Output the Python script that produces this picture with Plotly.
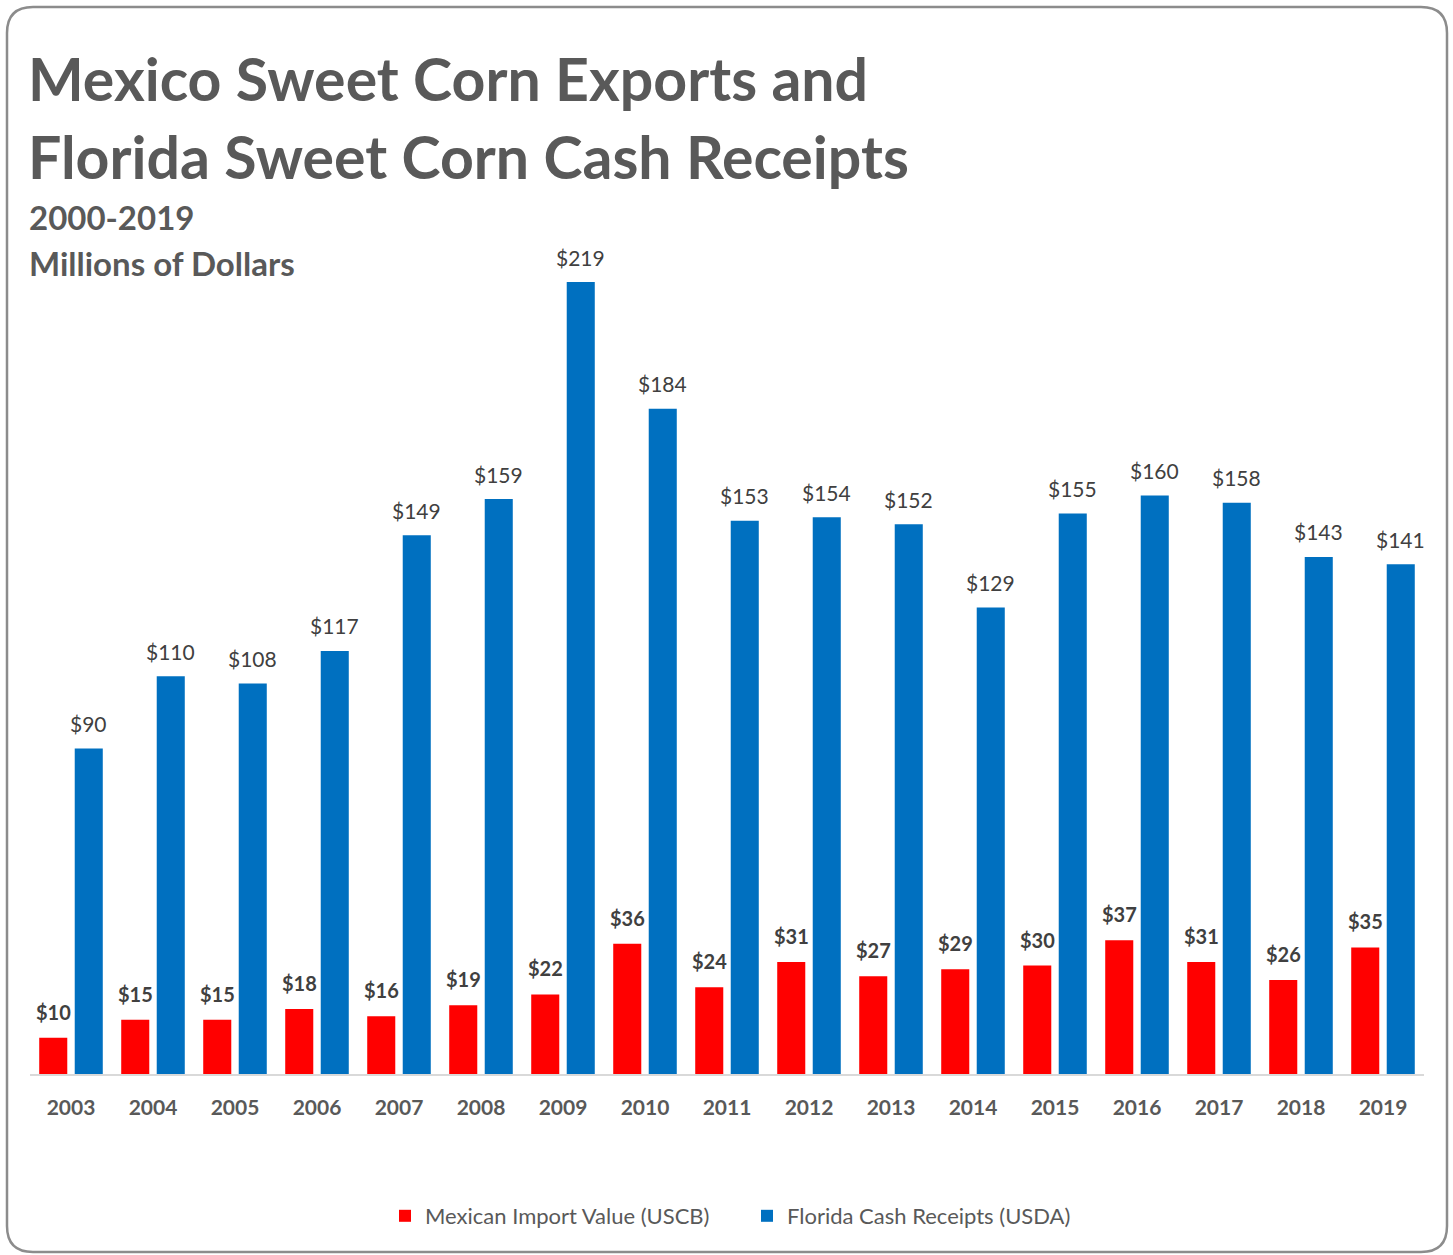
import plotly.graph_objects as go

years = ["2003", "2004", "2005", "2006", "2007", "2008", "2009", "2010", "2011",
         "2012", "2013", "2014", "2015", "2016", "2017", "2018", "2019"]
mexican_imports = [10, 15, 15, 18, 16, 19, 22, 36, 24, 31, 27, 29, 30, 37, 31, 26, 35]
florida_receipts = [90, 110, 108, 117, 149, 159, 219, 184, 153, 154, 152, 129, 155, 160, 158, 143, 141]

W, H = 1453, 1255
ML, MR, MT, MB = 30, 29, 240, 181
PW, PH = W - ML - MR, H - MT - MB
Y_MAX = PH / 3.616

RED = "#FF0000"
BLUE = "#0070C0"
GRAY = "#595959"
FONT = "Lato"


def px(x):
    return (x - ML) / PW


def py(y):
    return (H - MB - y) / PH


fig = go.Figure()
fig.add_trace(go.Bar(x=years, y=mexican_imports, name="Mexican Import Value (USCB)",
                     marker=dict(color=RED, line=dict(width=0))))
fig.add_trace(go.Bar(x=years, y=florida_receipts, name="Florida Cash Receipts (USDA)",
                     marker=dict(color=BLUE, line=dict(width=0))))

# value labels above each bar (x given as category index)
annotations = []
for i, v in enumerate(mexican_imports):
    annotations.append(dict(x=i, y=v, text=f"${v}", showarrow=False, xshift=-17.5, yshift=26,
                            font=dict(family=FONT, size=20, color="#404040", weight="bold")))
for i, v in enumerate(florida_receipts):
    annotations.append(dict(x=i, y=v, text=f"${v}", showarrow=False, xshift=17.5, yshift=25,
                            font=dict(family=FONT, size=21, color="#404040")))

titles = [
    ("Mexico Sweet Corn Exports and", 78, 59),
    ("Florida Sweet Corn Cash Receipts", 157, 59),
]
for txt, yc, sz in titles:
    annotations.append(dict(xref="paper", yref="paper", x=px(26), y=py(yc), xanchor="left",
                            yanchor="middle", text=txt, showarrow=False,
                            font=dict(family=FONT, size=sz, color=GRAY, weight="bold")))
for txt, yc in [("2000-2019", 217), ("Millions of Dollars", 263)]:
    annotations.append(dict(xref="paper", yref="paper", x=px(27), y=py(yc), xanchor="left",
                            yanchor="middle", text=txt, showarrow=False,
                            font=dict(family=FONT, size=33, color=GRAY, weight="bold")))

# rounded frame around the whole chart
x0, x1, y0, y1, r = 7, 1447, 7, 1252, 26
path = (f"M {px(x0 + r)},{py(y0)} L {px(x1 - r)},{py(y0)} "
        f"Q {px(x1)},{py(y0)} {px(x1)},{py(y0 + r)} "
        f"L {px(x1)},{py(y1 - r)} Q {px(x1)},{py(y1)} {px(x1 - r)},{py(y1)} "
        f"L {px(x0 + r)},{py(y1)} Q {px(x0)},{py(y1)} {px(x0)},{py(y1 - r)} "
        f"L {px(x0)},{py(y0 + r)} Q {px(x0)},{py(y0)} {px(x0 + r)},{py(y0)} Z")

fig.update_layout(
    width=W, height=H,
    margin=dict(l=ML, r=MR, t=MT, b=MB),
    paper_bgcolor="white", plot_bgcolor="white",
    barmode="group", bargap=0.134, bargroupgap=0.21,
    showlegend=True,
    legend=dict(orientation="h", x=px(385), y=py(1216), xanchor="left", yanchor="middle",
                font=dict(family=FONT, size=22, color=GRAY), itemwidth=30,
                entrywidth=317, entrywidthmode="pixels",
                tracegroupgap=0, bgcolor="rgba(0,0,0,0)"),
    annotations=annotations,
    shapes=[dict(type="path", xref="paper", yref="paper", path=path,
                 line=dict(color="#8C8C8C", width=2.5), fillcolor="rgba(0,0,0,0)", layer="below")],
    xaxis=dict(type="category", categoryorder="array", categoryarray=years,
               range=[-0.5, len(years) - 0.5], autorange=False,
               showgrid=False, showline=True, linecolor="#D9D9D9", linewidth=2,
               ticks="outside", ticklen=14, tickcolor="rgba(0,0,0,0)",
               tickfont=dict(family=FONT, size=21, color=GRAY, weight="bold")),
    yaxis=dict(range=[0, Y_MAX], autorange=False, showgrid=False, showticklabels=False,
               zeroline=False, showline=False),
)

fig.write_html("out.html")
